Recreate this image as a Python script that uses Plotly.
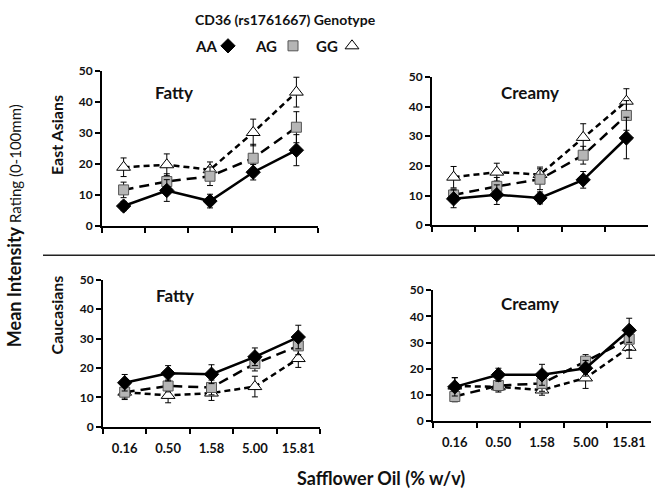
import plotly.graph_objects as go

W, H = 662, 497
FONT = "Lato"

# ---------------- data ----------------
conc = ["0.16", "0.50", "1.58", "5.00", "15.81"]
genotypes = ["AA", "AG", "GG"]

ea_fatty_AA = [6.5, 11.5, 8.1, 17.4, 24.5]
ea_fatty_AA_err = [1.5, 3.5, 2.2, 2.5, 5.0]
ea_fatty_AG = [11.7, 14.4, 16.1, 21.9, 31.9]
ea_fatty_AG_err = [2.5, 2.5, 3.0, 4.5, 5.0]
ea_fatty_GG = [19.0, 19.8, 18.2, 30.2, 43.2]
ea_fatty_GG_err = [3.0, 3.5, 2.5, 4.3, 4.8]

ea_creamy_AA = [8.9, 10.3, 9.2, 15.3, 29.4]
ea_creamy_AA_err = [3.0, 3.3, 2.0, 2.8, 7.0]
ea_creamy_AG = [10.2, 13.1, 15.5, 23.6, 37.0]
ea_creamy_AG_err = [2.0, 3.0, 3.5, 3.0, 5.0]
ea_creamy_GG = [16.2, 17.9, 17.1, 29.6, 41.8]
ea_creamy_GG_err = [3.6, 3.0, 2.5, 4.6, 4.2]

cau_fatty_AA = [15.0, 18.2, 17.9, 23.8, 30.5]
cau_fatty_AA_err = [2.8, 2.6, 3.2, 3.0, 4.0]
cau_fatty_AG = [11.8, 13.9, 13.4, 21.5, 27.5]
cau_fatty_AG_err = [2.0, 2.0, 2.5, 2.5, 3.0]
cau_fatty_GG = [11.8, 10.7, 11.5, 13.7, 23.2]
cau_fatty_GG_err = [2.5, 2.5, 2.5, 3.5, 3.0]

cau_creamy_AA = [13.1, 17.7, 17.7, 20.2, 34.7]
cau_creamy_AA_err = [3.5, 2.5, 4.0, 3.0, 4.6]
cau_creamy_AG = [9.4, 13.6, 14.4, 22.9, 31.3]
cau_creamy_AG_err = [2.0, 2.0, 3.0, 2.5, 4.0]
cau_creamy_GG = [13.4, 13.1, 11.9, 16.5, 28.2]
cau_creamy_GG_err = [3.2, 2.0, 2.0, 4.0, 4.2]

y_ticks = [0, 10, 20, 30, 40, 50]

# ---------------- styles ----------------
style = {
    "AA": dict(line=dict(color="black", width=2.5, dash="solid"),
               marker=dict(symbol="diamond", size=11, color="black",
                           line=dict(color="black", width=1))),
    "AG": dict(line=dict(color="black", width=2.5, dash="10px,6px"),
               marker=dict(symbol="square", size=10, color="#b5b5b5",
                           line=dict(color="#555555", width=1))),
    "GG": dict(line=dict(color="black", width=2.5, dash="6px,4px"),
               marker=dict(symbol="triangle-up", size=12, color="white",
                           line=dict(color="black", width=1))),
}

def fx(p):
    return p / W

def fy(p):
    return 1 - p / H

panels = [
    ("1", {"AA": (ea_fatty_AA, ea_fatty_AA_err), "AG": (ea_fatty_AG, ea_fatty_AG_err),
           "GG": (ea_fatty_GG, ea_fatty_GG_err)},
     (102, 318), (65, 225), False, "Fatty", (174, 87)),
    ("2", {"AA": (ea_creamy_AA, ea_creamy_AA_err), "AG": (ea_creamy_AG, ea_creamy_AG_err),
           "GG": (ea_creamy_GG, ea_creamy_GG_err)},
     (432, 648), (71, 224), False, "Creamy", (530, 87)),
    ("3", {"AA": (cau_fatty_AA, cau_fatty_AA_err), "AG": (cau_fatty_AG, cau_fatty_AG_err),
           "GG": (cau_fatty_GG, cau_fatty_GG_err)},
     (103, 320), (280, 432), True, "Fatty", (175, 296)),
    ("4", {"AA": (cau_creamy_AA, cau_creamy_AA_err), "AG": (cau_creamy_AG, cau_creamy_AG_err),
           "GG": (cau_creamy_GG, cau_creamy_GG_err)},
     (433, 651), (291, 426), True, "Creamy", (530, 305)),
]

fig = go.Figure()
annotations = []
layout_axes = {}

# overlay axis for the legend markers (added first so it sits underneath)
layout_axes["xaxis5"] = dict(domain=[0, 1], range=[0, W], visible=False, anchor="y5")
layout_axes["yaxis5"] = dict(domain=[0, 1], range=[H, 0], visible=False, anchor="x5")
legend_x = [228, 293, 352]
legend_y = [39, 39, 39]
for g, lx, ly in zip(genotypes, legend_x, legend_y):
    fig.add_trace(go.Scatter(x=[lx], y=[ly], xaxis="x5", yaxis="y5", mode="markers",
                             marker=style[g]["marker"], showlegend=False, hoverinfo="skip"))

for name, data, (x0, x1), (ytop, ybot), showx, title, (tx, ty) in panels:
    xa = "x" if name == "1" else "x" + name
    ya = "y" if name == "1" else "y" + name
    for g in ["GG", "AG", "AA"]:
        vals, errs = data[g]
        fig.add_trace(go.Scatter(
            x=conc, y=vals, xaxis=xa, yaxis=ya, mode="lines+markers",
            line=style[g]["line"], marker=style[g]["marker"],
            error_y=dict(type="data", array=errs, visible=True, color="black",
                         thickness=1, width=3),
            showlegend=False, cliponaxis=False,
        ))
    xkey = "xaxis" if name == "1" else "xaxis" + name
    ykey = "yaxis" if name == "1" else "yaxis" + name
    layout_axes[xkey] = dict(
        domain=[fx(x0), fx(x1)], anchor=ya, type="category",
        categoryorder="array", categoryarray=conc, range=[-0.5, 4.5],
        tickson="boundaries", ticks="outside", ticklen=5, tickwidth=1.5,
        tickcolor="black", showline=True, linewidth=2, linecolor="black",
        showgrid=False, zeroline=False, showticklabels=showx,
        ticklabelstandoff=8,
        tickfont=dict(family=FONT, size=13, color="#111", weight="bold"),
    )
    layout_axes[ykey] = dict(
        domain=[fy(ybot), fy(ytop)], anchor=xa, range=[0, 50],
        tickmode="array", tickvals=y_ticks, ticks="outside", ticklen=5,
        tickwidth=1.5, tickcolor="black", showline=True, linewidth=2,
        linecolor="black", showgrid=False, zeroline=False,
        tickfont=dict(family=FONT, size=12, color="#111", weight="bold"),
    )
    annotations.append(dict(text="<b>%s</b>" % title, x=fx(tx), y=fy(ty),
                            xref="paper", yref="paper", showarrow=False,
                            xanchor="center", yanchor="middle",
                            font=dict(family=FONT, size=17, color="#111")))

for g, lx in zip(genotypes, [206, 266, 327]):
    annotations.append(dict(text="<b>%s</b>" % g, x=fx(lx), y=fy(39), xref="paper",
                            yref="paper", showarrow=False, xanchor="center",
                            yanchor="middle", font=dict(family=FONT, size=15, color="#111")))

annotations += [
    dict(text="<b>CD36 (rs1761667) Genotype</b>", x=fx(285), y=fy(12), xref="paper",
         yref="paper", showarrow=False, xanchor="center", yanchor="middle",
         font=dict(family=FONT, size=14, color="#111")),
    dict(text="<b>Safflower Oil (% w/v)</b>", x=fx(381), y=fy(485), xref="paper",
         yref="paper", showarrow=False, xanchor="center", yanchor="middle",
         font=dict(family=FONT, size=18, color="#111")),
    dict(text="<b>East Asians</b>", x=fx(56), y=fy(131), xref="paper", yref="paper",
         showarrow=False, xanchor="center", yanchor="middle", textangle=-90,
         font=dict(family=FONT, size=16, color="#111")),
    dict(text="<b>Caucasians</b>", x=fx(56), y=fy(317), xref="paper", yref="paper",
         showarrow=False, xanchor="center", yanchor="middle", textangle=-90,
         font=dict(family=FONT, size=16, color="#111")),
    dict(text="<b>Mean Intensity </b><span style='font-size:15px'>Rating (0-100mm)</span>",
         x=fx(14), y=fy(225), xref="paper", yref="paper", showarrow=False,
         xanchor="center", yanchor="middle", textangle=-90,
         font=dict(family=FONT, size=18, color="#111")),
]

fig.update_layout(
    width=W, height=H, margin=dict(l=0, r=0, t=0, b=0),
    paper_bgcolor="white", plot_bgcolor="rgba(0,0,0,0)",
    annotations=annotations,
    shapes=[dict(type="line", xref="paper", yref="paper", x0=fx(43), x1=fx(655),
                 y0=fy(255), y1=fy(255), line=dict(color="#222", width=1.5))],
    **layout_axes,
)

fig.write_html(
    "out.html",
    config={"displayModeBar": False},
    post_script=(
        "document.documentElement.style.margin='0';"
        "document.body.style.margin='0';document.body.style.padding='0';"
        "document.body.style.overflow='hidden';"
        "var d=document.getElementById('{plot_id}');"
        "d.style.position='fixed';d.style.top='0px';d.style.left='0px';"
    ),
)
